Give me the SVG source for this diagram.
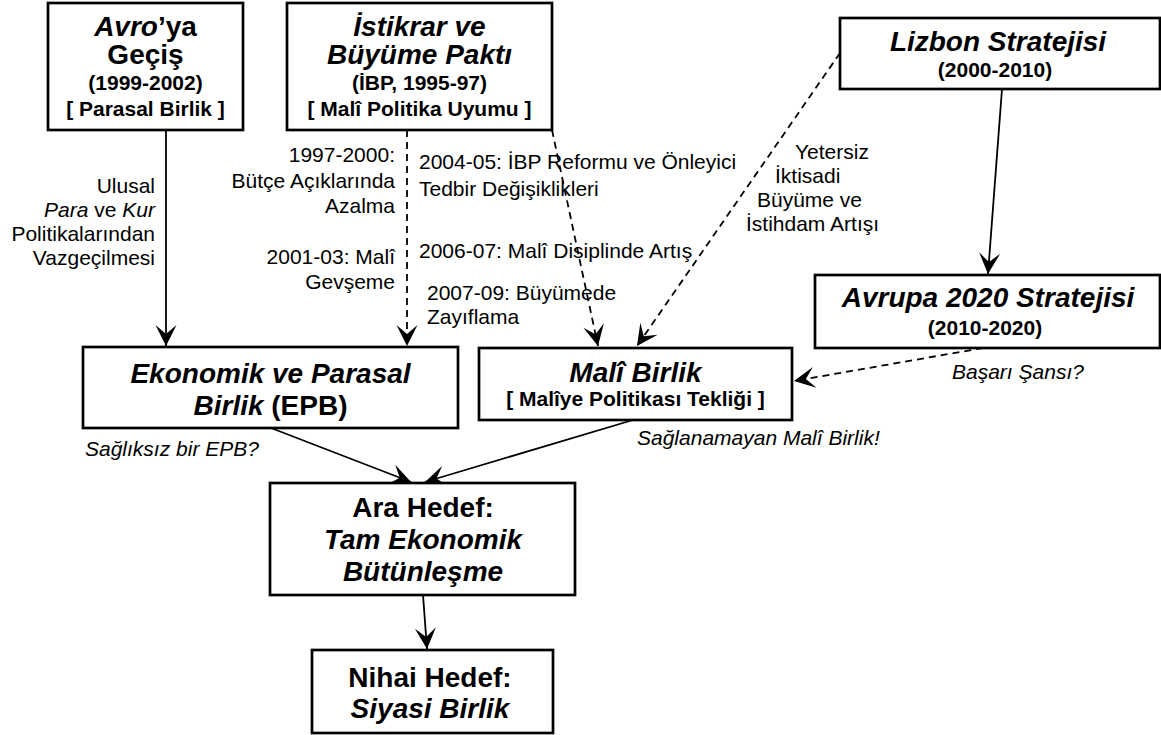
<svg xmlns="http://www.w3.org/2000/svg" width="1161" height="735" viewBox="0 0 1161 735">
<style>
.box{fill:#fff;stroke:#000;stroke-width:2.7}
.t{font-family:"Liberation Sans",Arial,sans-serif;fill:#000}
.h{font-size:28px;font-weight:bold}
.s{font-size:21px;font-weight:bold}
.l{font-size:21px}
.i{font-style:italic}
.c{text-anchor:middle}
.r{text-anchor:end}
.ln{stroke:#000;stroke-width:1.8;fill:none}
.d{stroke-dasharray:7,5}
</style>
<defs>
<marker id="ah" markerUnits="userSpaceOnUse" markerWidth="24" markerHeight="24" viewBox="-22 -12 24 24" refX="0" refY="0" orient="auto">
<path d="M0,0 L-21,-10.5 L-12,0 L-21,10.5 Z" fill="#000"/>
</marker>
</defs>
<rect width="1161" height="735" fill="#fff"/>
<g id="connectors">
<line class="ln" x1="166" y1="130" x2="166" y2="346" marker-end="url(#ah)"/>
<line class="ln d" x1="407" y1="130" x2="407" y2="346" marker-end="url(#ah)"/>
<line class="ln d" x1="552" y1="130" x2="598" y2="346" marker-end="url(#ah)"/>
<line class="ln d" x1="840" y1="53" x2="637" y2="346" marker-end="url(#ah)"/>
<line class="ln" x1="1002" y1="89" x2="988" y2="274" marker-end="url(#ah)"/>
<line class="ln d" x1="983" y1="348" x2="794" y2="381" marker-end="url(#ah)"/>
<line class="ln" x1="271" y1="428" x2="411" y2="482" marker-end="url(#ah)"/>
<line class="ln" x1="633" y1="420" x2="425" y2="482" marker-end="url(#ah)"/>
<line class="ln" x1="423" y1="595" x2="427" y2="649" marker-end="url(#ah)"/>
</g>
<g id="labels">
<text class="t l r" x="155" y="193">Ulusal</text>
<text class="t l r" x="155" y="217"><tspan class="i">Para</tspan> ve <tspan class="i">Kur</tspan></text>
<text class="t l r" x="155" y="241">Politikalarından</text>
<text class="t l r" x="155" y="265">Vazgeçilmesi</text>
<text class="t l r" x="395" y="162">1997-2000:</text>
<text class="t l r" x="395" y="188">Bütçe Açıklarında</text>
<text class="t l r" x="395" y="213">Azalma</text>
<text class="t l r" x="395" y="264">2001-03: Malî</text>
<text class="t l r" x="395" y="289">Gevşeme</text>
<text class="t l" x="419" y="169">2004-05: İBP Reformu ve Önleyici</text>
<text class="t l" x="419" y="196">Tedbir Değişiklikleri</text>
<text class="t l" x="419" y="258">2006-07: Malî Disiplinde Artış</text>
<text class="t l" x="427" y="300">2007-09: Büyümede</text>
<text class="t l" x="427" y="324">Zayıflama</text>
<text class="t l" x="795" y="159">Yetersiz</text>
<text class="t l" x="775" y="183">İktisadi</text>
<text class="t l" x="757" y="207">Büyüme ve</text>
<text class="t l" x="746" y="231">İstihdam Artışı</text>
<text class="t l i" x="952" y="379">Başarı Şansı?</text>
<text class="t l i" x="85" y="456">Sağlıksız bir EPB?</text>
<text class="t l i" x="637" y="445">Sağlanamayan Malî Birlik!</text>
</g>
<g id="avro">
<rect class="box" x="48" y="3" width="195" height="127"/>
<text class="t h c" x="145.5" y="36"><tspan class="i">Avro</tspan>’ya</text>
<text class="t h c" x="145.5" y="64">Geçiş</text>
<text class="t s c" x="145.5" y="90">(1999-2002)</text>
<text class="t s c" x="145.5" y="116">[ Parasal Birlik ]</text>
</g>
<g id="istikrar">
<rect class="box" x="287" y="3" width="265" height="127"/>
<text class="t h i c" x="419.5" y="36">İstikrar ve</text>
<text class="t h i c" x="419.5" y="64">Büyüme Paktı</text>
<text class="t s c" x="419.5" y="90">(İBP, 1995-97)</text>
<text class="t s c" x="419.5" y="116">[ Malî Politika Uyumu ]</text>
</g>
<g id="lizbon">
<rect class="box" x="840" y="18" width="320" height="71"/>
<text class="t h i c" x="998" y="51">Lizbon Stratejisi</text>
<text class="t s c" x="995" y="77">(2000-2010)</text>
</g>
<g id="avrupa2020">
<rect class="box" x="815" y="275" width="345" height="73"/>
<text class="t h i c" x="988" y="307">Avrupa 2020 Stratejisi</text>
<text class="t s c" x="985" y="335">(2010-2020)</text>
</g>
<g id="epb">
<rect class="box" x="83" y="347" width="375" height="81"/>
<text class="t h i c" x="270.5" y="383">Ekonomik ve Parasal</text>
<text class="t h c" x="270.5" y="415"><tspan class="i">Birlik</tspan> (EPB)</text>
</g>
<g id="mali">
<rect class="box" x="479" y="348" width="313" height="72"/>
<text class="t h i c" x="635.5" y="382">Malî Birlik</text>
<text class="t s c" x="635.5" y="406">[ Malîye Politikası Tekliği ]</text>
</g>
<g id="ara">
<rect class="box" x="270" y="483" width="305" height="112"/>
<text class="t h c" x="423" y="517">Ara Hedef:</text>
<text class="t h i c" x="423" y="549">Tam Ekonomik</text>
<text class="t h i c" x="423" y="581">Bütünleşme</text>
</g>
<g id="nihai">
<rect class="box" x="312" y="650" width="241" height="83"/>
<text class="t h c" x="430" y="687">Nihai Hedef:</text>
<text class="t h i c" x="430" y="718">Siyasi Birlik</text>
</g>
</svg>
